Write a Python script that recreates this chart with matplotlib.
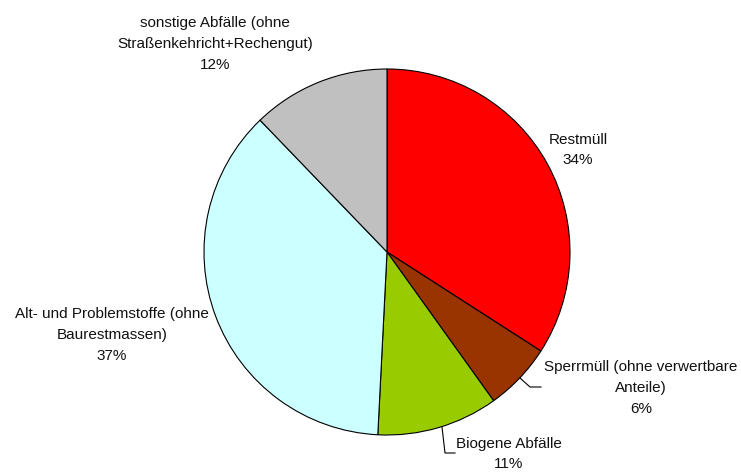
import numpy as np
import matplotlib
matplotlib.use('Agg')
import matplotlib.pyplot as plt

# data
labels = ['Restmüll', 'Sperrmüll (ohne verwertbare\nAnteile)', 'Biogene Abfälle',
          'Alt- und Problemstoffe (ohne\nBaurestmassen)',
          'sonstige Abfälle (ohne\nStraßenkehricht+Rechengut)']
shares = [34.1, 6.0, 10.7, 37.0, 12.2]
colors = ['#FF0000', '#993300', '#99CC00', '#CCFFFF', '#C0C0C0']

W, H = 741, 472
cx, cy, r = 387, 252, 183   # pie centre and radius in pixels

plt.rcParams['font.family'] = ['Liberation Sans', 'DejaVu Sans']

fig = plt.figure(figsize=(W / 100, H / 100), dpi=100)
ax = fig.add_axes([0, 0, 1, 1])
ax.pie(shares, colors=colors, startangle=90, counterclock=False, radius=1,
       wedgeprops=dict(edgecolor='black', linewidth=0.8))
ax.set_xlim(-cx / r, (W - cx) / r)
ax.set_ylim(-(H - cy) / r, cy / r)
ax.set_aspect('equal')
ax.axis('off')


def px(x, y):
    return (x - cx) / r, (cy - y) / r


# label positions (pixel centre of the text block)
label_pos = [(578, 150), (641, 388), (509, 454), (112, 335), (215, 44)]
for lab, val, (x, y) in zip(labels, shares, label_pos):
    ax.text(*px(x, y), f'{lab}\n{round(val):.0f}%', ha='center', va='center',
            fontsize=11, linespacing=1.6, color='#111111')

# leader lines for the two small slices
for pts in ([(520, 378), (530, 387), (541, 387)],
            [(442, 427), (445, 453), (455, 453)]):
    xs, ys = zip(*[px(x, y) for x, y in pts])
    ax.plot(xs, ys, color='black', linewidth=0.8)

fig.savefig('out.png', dpi=100)
